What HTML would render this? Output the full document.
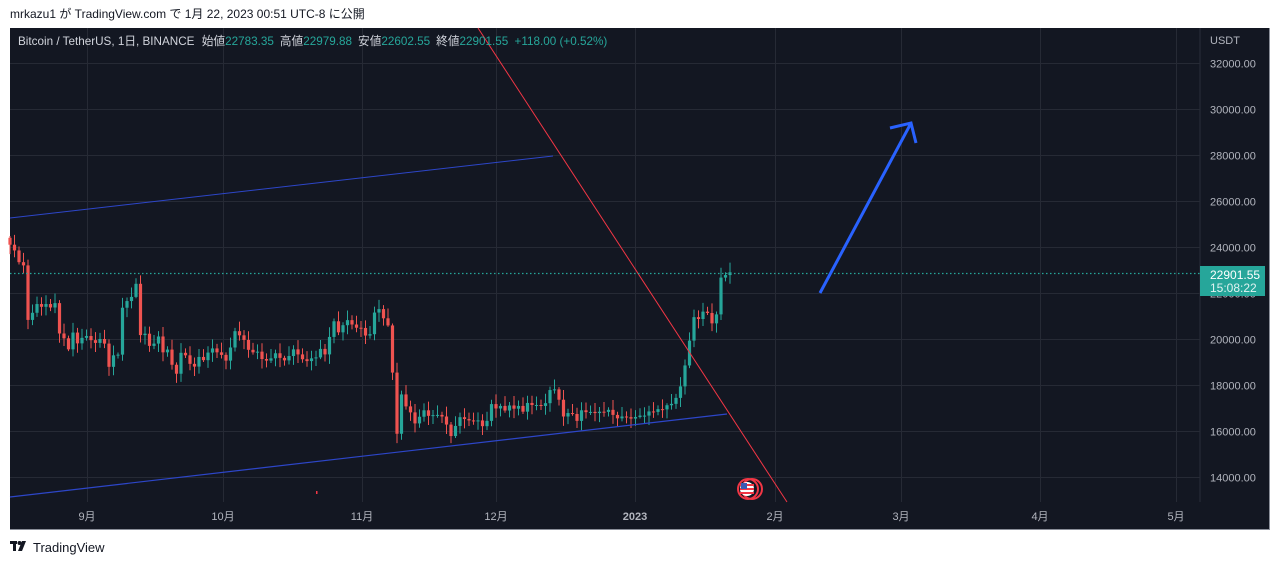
<!DOCTYPE html>
<html><head><meta charset="utf-8"><style>
body{margin:0;width:1280px;height:565px;background:#fff;overflow:hidden;font-family:"Liberation Sans","Noto Sans CJK JP",sans-serif}
</style></head><body>
<svg id="s" width="1280" height="565" xmlns="http://www.w3.org/2000/svg" style="position:absolute;left:0;top:0">
<text x="10" y="18" font-size="12" fill="#131722">mrkazu1 が TradingView.com で 1月 22, 2023 00:51 UTC-8 に公開</text>
<rect x="10" y="28" width="1260" height="502" fill="#131722"/>
<line x1="1200" y1="28" x2="1200" y2="502" stroke="#2a2e39"/>
<line x1="10" y1="529.5" x2="1270" y2="529.5" stroke="#8a8e99"/>
<line x1="1269.5" y1="28" x2="1269.5" y2="530" stroke="#8a8e99"/>
<g id="grid" stroke="#262a35" stroke-width="1"></g>
<g id="lab" font-size="11" fill="#b2b5be"></g>
<g id="candles"></g>
<line x1="478" y1="28" x2="787" y2="502" stroke="#f23645" stroke-width="1"/>
<line x1="10" y1="218" x2="553" y2="156" stroke="#2d46c9" stroke-width="1"/>
<line x1="10" y1="497" x2="727" y2="414" stroke="#2d46c9" stroke-width="1.2"/>
<line x1="10" y1="273.5" x2="1200" y2="273.5" stroke="#26a69a" stroke-width="1.2" stroke-dasharray="1.5,2.5"/>
<path d="M820 293 L910 125 M890 128 L911 123 L916 143" stroke="#2962ff" stroke-width="3" fill="none"/>
<circle cx="748" cy="489" r="10" fill="none" stroke="#f23645" stroke-width="2"/>
<circle cx="752" cy="489" r="10" fill="none" stroke="#f23645" stroke-width="2"/>
<circle cx="747" cy="489" r="7" fill="#fff"/>
<rect x="740" y="484" width="14" height="2" fill="#f23645"/><rect x="740" y="488" width="14" height="2" fill="#f23645"/><rect x="740" y="492" width="14" height="2" fill="#f23645"/>
<rect x="741" y="483" width="6" height="6" fill="#3c5ab4"/>
<rect x="316" y="491" width="1.5" height="3" fill="#f23645"/>
<rect x="1200" y="266" width="65" height="30" fill="#26a69a"/>
<text x="1210" y="279" font-size="12" fill="#fff">22901.55</text>
<text x="1210" y="292" font-size="12" fill="#e0f2f1">15:08:22</text>
<text x="18" y="45" font-size="11.7" fill="#d1d4dc">Bitcoin / TetherUS, 1日, BINANCE <tspan dx="4">始値</tspan><tspan fill="#26a69a">22783.35</tspan><tspan dx="6">高値</tspan><tspan fill="#26a69a">22979.88</tspan><tspan dx="6">安値</tspan><tspan fill="#26a69a">22602.55</tspan><tspan dx="6">終値</tspan><tspan fill="#26a69a">22901.55 <tspan dx="3">+118.00 (+0.52%)</tspan></tspan></text>
<g transform="translate(10,541)" fill="#131722"><rect x="0" y="0" width="7" height="3"/><rect x="3" y="0" width="3" height="10"/><circle cx="9.5" cy="2" r="2"/><path d="M12 0 H16 L12 10 H8 Z"/></g>
<text x="33" y="552" font-size="13" fill="#131722">TradingView</text>
</svg>
<script>
var c=[24100,23850,23340,23200,20830,21140,21520,21400,21520,21370,21560,20240,20030,19550,20280,19810,20050,
20130,19950,19830,20000,19800,18790,19290,19320,21360,21650,21830,22400,20170,20230,19700,19800,20110,19420,19540,18880,18490,19400,19290,18920,18800,19220,19080,19410,19590,19420,
19310,19060,19630,20340,20160,19960,19530,19420,19450,19130,19060,19160,19380,19180,19070,19260,19550,19330,19120,19040,19160,19200,19570,19330,20090,20770,20290,20600,20820,20630,20490,
20480,20150,20210,21150,21300,20900,20590,18540,15880,17590,17070,16810,16330,16620,16900,16660,16690,16700,16630,16280,15780,16220,16600,16520,16460,16430,16460,16210,16440,17170,
16980,17090,16890,17110,16970,17090,16840,17220,17130,17130,17090,17210,17780,17810,17360,16630,16780,16740,16440,16900,16820,16830,16780,16840,16830,16920,16700,16550,16630,16600,16540,
16610,16670,16670,16850,16830,16950,16940,17120,17180,17440,17940,18850,19930,20950,20870,21190,21130,20680,21070,22670,22780,22900];
var NS="http://www.w3.org/2000/svg";
function Y(p){return 477-(p-14000)*0.023;}
function el(g,t,a){var e=document.createElementNS(NS,t);for(var k in a)e.setAttribute(k,a[k]);document.getElementById(g).appendChild(e);return e;}
for(var p=14000;p<=32000;p+=2000){var y=Math.round(Y(p))+0.5;el("grid","line",{x1:10,y1:y,x2:1200,y2:y});var t=el("lab","text",{x:1210,y:y+4});t.textContent=p+".00";}
var m=[[87,"9月"],[223,"10月"],[362,"11月"],[496,"12月"],[635,"2023"],[775,"2月"],[901,"3月"],[1040,"4月"],[1176,"5月"]];
m.forEach(function(a){el("grid","line",{x1:a[0]+0.5,y1:28,x2:a[0]+0.5,y2:502});var t=el("lab","text",{x:a[0],y:520,"text-anchor":"middle"});t.textContent=a[1];if(a[1]=="2023")t.setAttribute("font-weight","bold");});
var t=el("lab","text",{x:1210,y:44});t.textContent="USDT";
var prev=24400;
for(var i=0;i<c.length;i++){var o=prev,cl=c[i],x=10+i*4.5;var up=cl>=o,col=up?"#26a69a":"#ef5350";
var r=Math.abs(Math.sin(i*1.7))*350+80;var hi=Math.max(o,cl)+r,lo=Math.min(o,cl)-Math.abs(Math.cos(i*2.3))*350-60;
el("candles","line",{x1:x,y1:Y(hi),x2:x,y2:Y(lo),stroke:col,"stroke-width":1});
var y1=Y(Math.max(o,cl)),h=Math.max(1,Y(Math.min(o,cl))-y1);el("candles","rect",{x:x-1.6,y:y1,width:3.2,height:h,fill:col});prev=cl;}
</script>
</body></html>
